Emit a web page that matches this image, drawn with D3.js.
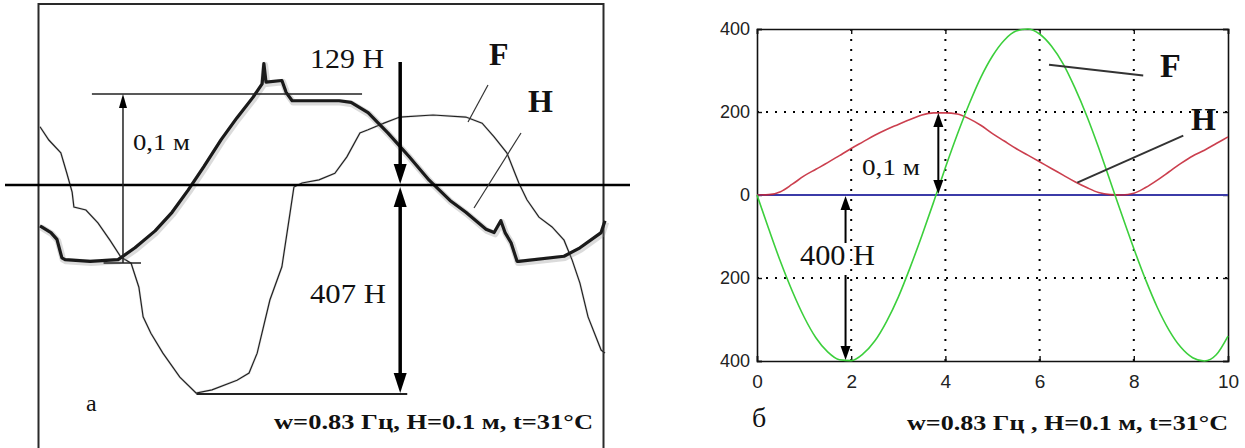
<!DOCTYPE html>
<html><head><meta charset="utf-8">
<script src="https://cdn.jsdelivr.net/npm/d3@7"></script>
<style>
html,body{margin:0;padding:0;background:#fff;}
svg{display:block;}
</style></head>
<body>
<svg id="chart" width="1245" height="448"></svg>
<script>
// ---------- DATA: panel a (oscillogram) ----------
// time in s, force in N (thin trace)
const oscForceT = [0,0.025,0.059,0.076,0.091,0.096,0.130,0.164,0.198,0.229,0.258,0.280,0.292,0.314,0.348,0.396,0.442,0.487,0.558,0.592,0.615,0.651,0.685,0.708,0.719,0.742,0.790,0.835,0.869,0.906,0.929,0.974,1.019,1.113,1.206,1.252,1.286,1.322,1.345,1.356,1.379,1.413,1.450,1.484,1.507,1.529,1.552,1.589,1.600];
const oscForceF = [114,88,63,23,-14,-43,-49,-74,-108,-141,-153,-200,-258,-290,-329,-376,-407,-401,-382,-368,-329,-225,-160,-55,-4,4,10,23,55,102,108,121,133,137,133,121,94,63,23,4,-29,-63,-82,-108,-147,-192,-258,-323,-329];
// time in s, displacement in mm (thick trace)
const oscDispT = [0,0.031,0.048,0.062,0.071,0.142,0.221,0.269,0.326,0.374,0.419,0.464,0.513,0.558,0.603,0.629,0.634,0.640,0.685,0.697,0.714,0.847,0.881,0.929,0.985,1.045,1.102,1.161,1.206,1.263,1.286,1.305,1.317,1.334,1.351,1.356,1.484,1.529,1.589,1.600];
const oscDispH = [22,18,14,3,2,1,2,9,19,30,43,57,73,86,98,106,118,107,108,101,96,96,95,89,77,63,49,37,30,20,18,25,18,12,1,1,4,9,18,25];
const oscForceMax = 129, oscForceMin = -407, oscDispAmp = 100;

// ---------- DATA: panel б (model) ----------
const simT = [0,0.25,0.5,0.75,1,1.25,1.5,1.75,2,2.25,2.5,2.75,3,3.25,3.5,3.75,4,4.25,4.5,4.75,5,5.25,5.5,5.75,6,6.25,6.5,6.75,7,7.25,7.5,7.75,8,8.25,8.5,8.75,9,9.25,9.5,9.75,10];
const simF = [0,-82,-161,-232,-294,-344,-378,-397,-399,-383,-352,-305,-246,-175,-98,-17,66,145,218,283,335,373,395,400,388,359,316,258,191,115,33,-49,-129,-204,-271,-326,-367,-392,-400,-385,-340];
const simH = [0,1,8,26,46,62,78,95,112,128,144,158,170,182,193,198,198,195,184,168,148,130,112,96,80,64,48,32,18,6,1,0,4,18,36,56,76,94,108,124,140];
const simBase = [0,0];
const xTicks = [0,2,4,6,8,10];
const yTicks = [400,200,0,-200,-400];
const yTickLabels = ["400","200","0","200","400"];

// ---------- TEXT ----------
const capA = "w=0.83 Гц,  Н=0.1 м, t=31°C";
const capB = "w=0.83 Гц , Н=0.1 м, t=31°C";

const svg = d3.select("#chart");
const serif = "'Liberation Serif','Times New Roman',serif";
const sans = "'Liberation Sans',Arial,sans-serif";

function arrowHead(g, x, y, dir, w, h) {
  g.append("path")
    .attr("d", `M${x},${y} L${x - w / 2},${y - dir * h} L${x + w / 2},${y - dir * h} Z`)
    .attr("fill", "#000");
}

// ================= PANEL a =================
const xL = d3.scaleLinear().domain([0, 1.6]).range([40, 605]);
const yF = d3.scaleLinear().domain([-407, 0]).range([393, 185]);
const yH = d3.scaleLinear().domain([0, 100]).range([263, 94]);
const gA = svg.append("g");

gA.append("rect").attr("x", 38.5).attr("y", 4).attr("width", 565).attr("height", 446)
  .attr("fill", "none").attr("stroke", "#2a2a2a").attr("stroke-width", 2);

// force trace (thin)
const lineF = d3.line().x((d, i) => xL(oscForceT[i])).y(d => yF(d));
gA.append("path").datum(oscForceF).attr("d", lineF)
  .attr("fill", "none").attr("stroke", "#999").attr("stroke-width", 2.4).attr("opacity", 0.3);
gA.append("path").datum(oscForceF).attr("d", lineF)
  .attr("fill", "none").attr("stroke", "#222").attr("stroke-width", 1.2);

// displacement trace (thick)
const lineH = d3.line().x((d, i) => xL(oscDispT[i])).y(d => yH(d));
gA.append("path").datum(oscDispH).attr("d", lineH)
  .attr("fill", "none").attr("stroke", "#888").attr("stroke-width", 6.5).attr("opacity", 0.3)
  .attr("stroke-linejoin", "round").attr("transform", "translate(1,1.5)");
gA.append("path").datum(oscDispH).attr("d", lineH)
  .attr("fill", "none").attr("stroke", "#1a1a1a").attr("stroke-width", 3.2)
  .attr("stroke-linejoin", "round");

// zero line
gA.append("line").attr("x1", 5).attr("x2", 630).attr("y1", yF(0)).attr("y2", yF(0))
  .attr("stroke", "#000").attr("stroke-width", 2.5);

// 0,1 m dimension
const tDim = 0.235;
gA.append("line").attr("x1", xL(0.147)).attr("x2", xL(0.912)).attr("y1", yH(oscDispAmp)).attr("y2", yH(oscDispAmp))
  .attr("stroke", "#222").attr("stroke-width", 1.3);
gA.append("line").attr("x1", xL(0.18)).attr("x2", xL(0.286)).attr("y1", yH(0)).attr("y2", yH(0))
  .attr("stroke", "#222").attr("stroke-width", 1.3);
gA.append("line").attr("x1", xL(tDim)).attr("x2", xL(tDim)).attr("y1", yH(0)).attr("y2", yH(oscDispAmp) + 10)
  .attr("stroke", "#222").attr("stroke-width", 1.5);
arrowHead(gA, xL(tDim), yH(oscDispAmp), -1, 8, 14);

// force dimension arrow
const tArr = 1.02;
const xa = xL(tArr);
gA.append("line").attr("x1", xa).attr("x2", xa).attr("y1", 62).attr("y2", yF(0) - 14)
  .attr("stroke", "#000").attr("stroke-width", 3.5);
gA.append("line").attr("x1", xa).attr("x2", xa).attr("y1", yF(0) + 14).attr("y2", yF(oscForceMin) - 14)
  .attr("stroke", "#000").attr("stroke-width", 3.5);
arrowHead(gA, xa, yF(0) - 1, 1, 13, 20);
arrowHead(gA, xa, yF(0) + 2, -1, 13, 20);
arrowHead(gA, xa, yF(oscForceMin), 1, 13, 20);
gA.append("line").attr("x1", xL(0.443)).attr("x2", xL(1.04)).attr("y1", yF(oscForceMin) + 1).attr("y2", yF(oscForceMin) + 1)
  .attr("stroke", "#222").attr("stroke-width", 2);

// leaders
gA.append("line").attr("x1", 488).attr("y1", 85).attr("x2", 468).attr("y2", 122).attr("stroke", "#333").attr("stroke-width", 1.2);
gA.append("line").attr("x1", 521).attr("y1", 133).attr("x2", 474).attr("y2", 208).attr("stroke", "#333").attr("stroke-width", 1.2);

function txt(g, s, x, y, size, opts = {}) {
  const t = g.append("text").attr("x", x).attr("y", y).text(s)
    .attr("font-family", opts.family || serif).attr("font-size", size)
    .attr("font-weight", opts.bold ? "bold" : "normal")
    .attr("fill", opts.fill || "#111");
  if (opts.len) t.attr("textLength", opts.len).attr("lengthAdjust", "spacingAndGlyphs");
  if (opts.anchor) t.attr("text-anchor", opts.anchor);
  return t;
}
txt(gA, oscForceMax + " Н", 310, 68, 27, { len: 74 });
txt(gA, (-oscForceMin) + " Н", 310, 303, 27, { len: 76 });
txt(gA, "F", 489, 65, 32, { bold: true });
txt(gA, "H", 528, 112, 32, { bold: true });
txt(gA, "0,1 м", 133, 150, 24, { len: 57 });
txt(gA, "а", 86, 411, 24);
txt(gA, capA, 274, 429, 20, { bold: true, len: 319 });

// ================= PANEL б =================
const xR = d3.scaleLinear().domain([0, 10]).range([757, 1228]);
const yR = d3.scaleLinear().domain([-400, 400]).range([361, 29]);
const gB = svg.append("g");

// grid
gB.selectAll("line.gx").data(xTicks.filter(d => d > 0 && d < 10)).enter().append("line")
  .attr("x1", d => xR(d)).attr("x2", d => xR(d)).attr("y1", yR(400)).attr("y2", yR(-400))
  .attr("stroke", "#000").attr("stroke-width", 2).attr("stroke-dasharray", "2,8");
gB.selectAll("line.gy").data(yTicks.filter(d => d !== 0 && Math.abs(d) < 400)).enter().append("line")
  .attr("x1", xR(0)).attr("x2", xR(10)).attr("y1", d => yR(d)).attr("y2", d => yR(d))
  .attr("stroke", "#000").attr("stroke-width", 2).attr("stroke-dasharray", "2,7");

// axes (ticks inward)
const axB = d3.axisBottom(xR).tickValues(xTicks).tickSize(-5).tickPadding(14).tickFormat(d3.format("d"));
const axL = d3.axisLeft(yR).tickValues(yTicks).tickSize(-5).tickPadding(7).tickFormat((d, i) => yTickLabels[i]);
const axT = d3.axisTop(xR).tickValues(xTicks).tickSize(-5).tickFormat("");
const axR = d3.axisRight(yR).tickValues(yTicks).tickSize(-5).tickFormat("");
function styleAx(g) {
  g.select(".domain").attr("stroke", "#111").attr("stroke-width", 1.6);
  g.selectAll(".tick line").attr("stroke", "#111").attr("stroke-width", 1.4);
  g.selectAll("text").attr("font-family", sans).attr("fill", "#222");
}
gB.append("g").attr("transform", `translate(0,${yR(-400)})`).call(axB).call(styleAx)
  .selectAll("text").attr("font-size", 19);
gB.append("g").attr("transform", `translate(${xR(0)},0)`).call(axL).call(styleAx)
  .selectAll("text").attr("font-size", 18);
gB.append("g").attr("transform", `translate(0,${yR(400)})`).call(axT).call(styleAx);
gB.append("g").attr("transform", `translate(${xR(10)},0)`).call(axR).call(styleAx);

// series
gB.append("line").attr("x1", xR(0)).attr("x2", xR(10)).attr("y1", yR(simBase[0])).attr("y2", yR(simBase[1]))
  .attr("stroke", "#3b3ba8").attr("stroke-width", 2);
const lineSH = d3.line().x((d, i) => xR(simT[i])).y(d => yR(d)).curve(d3.curveMonotoneX);
gB.append("path").datum(simH).attr("d", lineSH).attr("fill", "none")
  .attr("stroke", "#c42436").attr("stroke-width", 1.6).attr("opacity", 0.88);
gB.append("path").datum(simF).attr("d", lineSH).attr("fill", "none")
  .attr("stroke", "#3ccf3c").attr("stroke-width", 1.6);

// 0,1 m arrow
const xb1 = xR(3.85);
gB.append("line").attr("x1", xb1).attr("x2", xb1).attr("y1", yR(200) + 12).attr("y2", yR(0) - 12)
  .attr("stroke", "#000").attr("stroke-width", 2);
arrowHead(gB, xb1, yR(200) + 1, -1, 10, 14);
arrowHead(gB, xb1, yR(0) - 1, 1, 10, 14);

// 400 H arrow
const xb2 = xR(1.88);
gB.append("line").attr("x1", xb2).attr("x2", xb2).attr("y1", yR(0) + 12).attr("y2", 243)
  .attr("stroke", "#000").attr("stroke-width", 2);
gB.append("line").attr("x1", xb2).attr("x2", xb2).attr("y1", 275).attr("y2", yR(-400) - 12)
  .attr("stroke", "#000").attr("stroke-width", 2);
arrowHead(gB, xb2, yR(0) + 1, -1, 10, 14);
arrowHead(gB, xb2, yR(-400) - 1, 1, 10, 14);

// leaders
gB.append("line").attr("x1", xR(6.2)).attr("y1", yR(314)).attr("x2", xR(8.2)).attr("y2", yR(288))
  .attr("stroke", "#333").attr("stroke-width", 2);
gB.append("line").attr("x1", xR(6.8)).attr("y1", yR(30)).attr("x2", xR(9.05)).attr("y2", yR(143))
  .attr("stroke", "#333").attr("stroke-width", 2);

txt(gB, "F", 1160, 77, 34, { bold: true });
txt(gB, "H", 1191, 130, 32, { bold: true });
txt(gB, "0,1 м", 862, 175, 24, { len: 58 });
txt(gB, "400 Н", 800, 265, 29, { len: 75 });
txt(gB, "б", 752, 427, 28);
txt(gB, capB, 907, 430, 20, { bold: true, len: 321 });
</script>
</body></html>
